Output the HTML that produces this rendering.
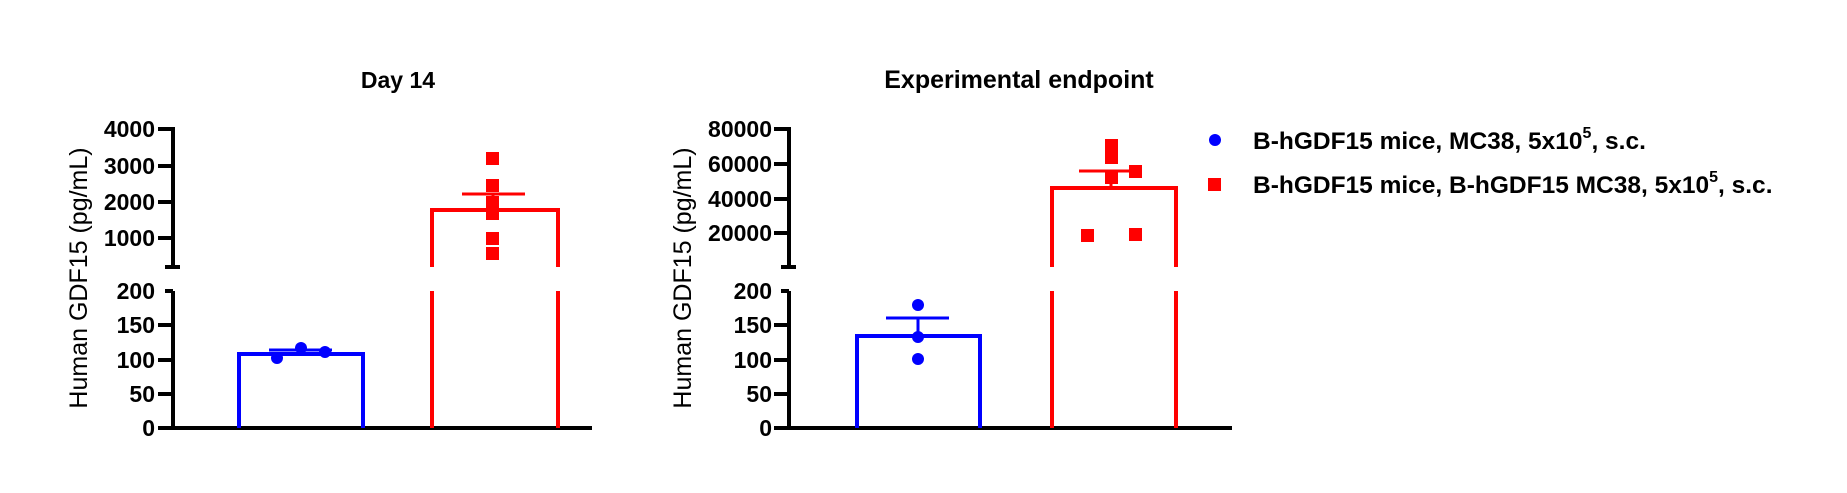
<!DOCTYPE html>
<html><head><meta charset="utf-8"><style>
html,body{margin:0;padding:0;background:#fff;}
svg{display:block;}
text{font-family:"Liberation Sans",Arial,sans-serif;}
.t{font-weight:bold;font-size:23px;text-anchor:end;}
</style></head><body>
<svg width="1847" height="493" viewBox="0 0 1847 493" xmlns="http://www.w3.org/2000/svg">
<!-- Titles -->
<text x="398" y="88" font-size="23" font-weight="bold" text-anchor="middle">Day 14</text>
<text x="1019" y="88" font-size="25" font-weight="bold" text-anchor="middle">Experimental endpoint</text>

<!-- LEFT PLOT -->
<text transform="translate(87,278) rotate(-90)" font-size="25" text-anchor="middle">Human GDF15 (pg/mL)</text>
<g stroke="#000" stroke-width="4" fill="none">
  <line x1="173" y1="127" x2="173" y2="267"/>
  <line x1="158" y1="129" x2="173" y2="129"/>
  <line x1="158" y1="166" x2="173" y2="166"/>
  <line x1="158" y1="202" x2="173" y2="202"/>
  <line x1="158" y1="238" x2="173" y2="238"/>
  <line x1="165" y1="267" x2="180" y2="267"/>
  <line x1="173" y1="291" x2="173" y2="430"/>
  <line x1="165" y1="291" x2="173" y2="291"/>
  <line x1="158" y1="325" x2="173" y2="325"/>
  <line x1="158" y1="360" x2="173" y2="360"/>
  <line x1="158" y1="394" x2="173" y2="394"/>
  <line x1="158" y1="428" x2="592" y2="428"/>
</g>
<g>
  <text class="t" x="155" y="137">4000</text>
  <text class="t" x="155" y="174">3000</text>
  <text class="t" x="155" y="210">2000</text>
  <text class="t" x="155" y="246">1000</text>
  <text class="t" x="155" y="299">200</text>
  <text class="t" x="155" y="333">150</text>
  <text class="t" x="155" y="368">100</text>
  <text class="t" x="155" y="402">50</text>
  <text class="t" x="155" y="436">0</text>
</g>
<!-- blue bar -->
<path d="M239 428 V354 H363 V428" stroke="#0000ff" stroke-width="4" fill="none"/>
<line x1="269" y1="350" x2="332" y2="350" stroke="#0000ff" stroke-width="3"/>
<g fill="#0000ff">
  <circle cx="277" cy="358" r="6"/>
  <circle cx="301" cy="348" r="6"/>
  <circle cx="325" cy="352" r="6"/>
</g>
<!-- red bar -->
<g stroke="#ff0000" stroke-width="4" fill="none">
  <path d="M432 267 V210 H560"/>
  <line x1="558" y1="210" x2="558" y2="267"/>
  <line x1="432" y1="291" x2="432" y2="428"/>
  <line x1="558" y1="291" x2="558" y2="428"/>
</g>
<line x1="462" y1="194" x2="525" y2="194" stroke="#ff0000" stroke-width="3"/>
<line x1="493" y1="194" x2="493" y2="210" stroke="#ff0000" stroke-width="3"/>
<g fill="#ff0000">
  <rect x="486" y="152" width="13" height="13"/>
  <rect x="486" y="179" width="13" height="13"/>
  <rect x="486" y="196" width="13" height="13"/>
  <rect x="486" y="207" width="13" height="13"/>
  <rect x="486" y="232" width="13" height="13"/>
  <rect x="486" y="247" width="13" height="13"/>
</g>

<!-- RIGHT PLOT -->
<text transform="translate(691,278) rotate(-90)" font-size="25" text-anchor="middle">Human GDF15 (pg/mL)</text>
<g stroke="#000" stroke-width="4" fill="none">
  <line x1="789" y1="127" x2="789" y2="267"/>
  <line x1="774" y1="129" x2="789" y2="129"/>
  <line x1="774" y1="164" x2="789" y2="164"/>
  <line x1="774" y1="199" x2="789" y2="199"/>
  <line x1="774" y1="233" x2="789" y2="233"/>
  <line x1="781" y1="267" x2="796" y2="267"/>
  <line x1="789" y1="291" x2="789" y2="430"/>
  <line x1="781" y1="291" x2="789" y2="291"/>
  <line x1="774" y1="325" x2="789" y2="325"/>
  <line x1="774" y1="360" x2="789" y2="360"/>
  <line x1="774" y1="394" x2="789" y2="394"/>
  <line x1="774" y1="428" x2="1232" y2="428"/>
</g>
<g>
  <text class="t" x="772" y="137">80000</text>
  <text class="t" x="772" y="172">60000</text>
  <text class="t" x="772" y="207">40000</text>
  <text class="t" x="772" y="241">20000</text>
  <text class="t" x="772" y="299">200</text>
  <text class="t" x="772" y="333">150</text>
  <text class="t" x="772" y="368">100</text>
  <text class="t" x="772" y="402">50</text>
  <text class="t" x="772" y="436">0</text>
</g>
<!-- blue bar -->
<path d="M857 428 V336 H980 V428" stroke="#0000ff" stroke-width="4" fill="none"/>
<line x1="886" y1="318" x2="949" y2="318" stroke="#0000ff" stroke-width="3"/>
<line x1="918" y1="318" x2="918" y2="336" stroke="#0000ff" stroke-width="3"/>
<g fill="#0000ff">
  <circle cx="918" cy="305" r="6"/>
  <circle cx="918" cy="337" r="6"/>
  <circle cx="918" cy="359" r="6"/>
</g>
<!-- red bar -->
<g stroke="#ff0000" stroke-width="4" fill="none">
  <path d="M1052 267 V188 H1178"/>
  <line x1="1176" y1="188" x2="1176" y2="267"/>
  <line x1="1052" y1="291" x2="1052" y2="428"/>
  <line x1="1176" y1="291" x2="1176" y2="428"/>
</g>
<line x1="1079" y1="171" x2="1142" y2="171" stroke="#ff0000" stroke-width="3"/>
<line x1="1111" y1="171" x2="1111" y2="188" stroke="#ff0000" stroke-width="3"/>
<g fill="#ff0000">
  <rect x="1105" y="139" width="13" height="13"/>
  <rect x="1105" y="151" width="13" height="13"/>
  <rect x="1105" y="171" width="13" height="13"/>
  <rect x="1129" y="165" width="13" height="13"/>
  <rect x="1081" y="229" width="13" height="13"/>
  <rect x="1129" y="228" width="13" height="13"/>
</g>

<!-- Legend -->
<circle cx="1215" cy="140" r="6" fill="#0000ff"/>
<rect x="1208" y="178" width="13" height="13" fill="#ff0000"/>
<text x="1253" y="149" font-size="24.5" font-weight="bold">B-hGDF15 mice, MC38, 5x10<tspan dy="-11" font-size="16">5</tspan><tspan dy="11">, s.c.</tspan></text>
<text x="1253" y="193" font-size="24.5" font-weight="bold">B-hGDF15 mice, B-hGDF15 MC38, 5x10<tspan dy="-11" font-size="16">5</tspan><tspan dy="11">, s.c.</tspan></text>
</svg>
</body></html>
